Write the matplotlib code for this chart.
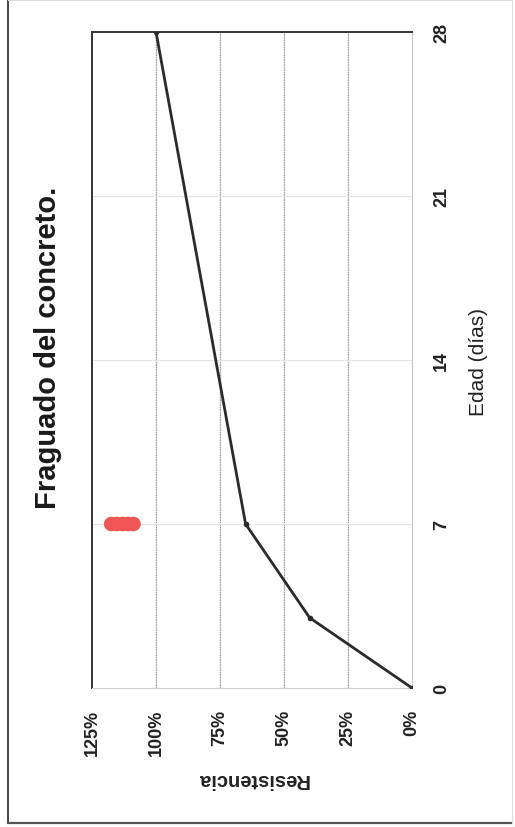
import matplotlib.pyplot as plt
from matplotlib.lines import Line2D

plt.rcParams["font.family"] = ["Liberation Sans", "DejaVu Sans"]

# Data (chart is drawn rotated 90 degrees, as in the scanned page)
edad_dias = [0, 3, 7, 28]
resistencia = [0, 40, 65, 100]
edad_ticks = [0, 7, 14, 21, 28]
resistencia_ticks = [0, 25, 50, 75, 100, 125]

# Red marks on the page (ink dots near day 7)
marca_edad = [7, 7, 7, 7, 7]
marca_resistencia = [117.5, 115.3, 113.1, 110.9, 108.8]

W, H = 515, 828
fig = plt.figure(figsize=(W / 100, H / 100), dpi=100)
fig.patch.set_facecolor("white")

ax = fig.add_axes([92 / W, 1 - 689 / H, (412 - 92) / W, (689 - 33) / H])

# Grid lines
for r in resistencia_ticks[1:-1]:
    ax.axvline(r, color="#a0a0a0", lw=0.9, ls=(0, (1.5, 0.5)), zorder=1)
for e in edad_ticks[1:-1]:
    ax.axhline(e, color="#e4e4e4", lw=0.8, zorder=1)

ax.plot(resistencia, edad_dias, color="#2b2b2b", lw=2.0, marker="o",
        ms=3, zorder=3)
ax.scatter(marca_resistencia, marca_edad, s=110, color="#f25555",
           edgecolors="none", zorder=4)

ax.set_xlim(125, 0)
ax.set_ylim(0, 28)
ax.set_xticks(resistencia_ticks)
ax.set_yticks(edad_ticks)
ax.tick_params(length=0, labelbottom=False, labelleft=False)

# Spines: left and top dark, right and bottom light
ax.spines["left"].set_color("#333333")
ax.spines["top"].set_color("#333333")
ax.spines["left"].set_linewidth(1.4)
ax.spines["top"].set_linewidth(1.4)
ax.spines["right"].set_color("#c8c8c8")
ax.spines["bottom"].set_color("#d0d0d0")
ax.spines["right"].set_linewidth(0.8)
ax.spines["bottom"].set_linewidth(0.8)

# Tick labels, rotated
for r in resistencia_ticks:
    ax.annotate(f"{r}%", xy=(r, 0), xycoords="data", xytext=(0, -21),
                textcoords="offset pixels", rotation=90, ha="center",
                va="top", fontsize=13, fontweight="bold", color="#222222")
for e in edad_ticks:
    ax.annotate(f"{e}", xy=(0, e), xycoords="data", xytext=(21, 0),
                textcoords="offset pixels", rotation=90, ha="left",
                va="center", fontsize=13, fontweight="bold", color="#222222")

fig.text(478 / W, 1 - 362 / H, "Edad (días)", rotation=90, ha="center",
         va="center", fontsize=15, color="#222222")
fig.text(253 / W, 1 - 780 / H, "Resistencia", rotation=180, ha="center",
         va="center", fontsize=14.5, fontweight="bold", color="#222222")
fig.text(48 / W, 1 - 348 / H, "Fraguado del concreto.", rotation=90,
         ha="center", va="center", fontsize=21, fontweight="bold",
         color="#1a1a1a")

# Outer frame of the scanned chart
fig.add_artist(Line2D([8 / W, 8 / W], [1 - 824 / H, 1], color="#444444", lw=1.4))
fig.add_artist(Line2D([8 / W, 512 / W], [1 - 824 / H, 1 - 824 / H],
                      color="#555555", lw=1.6))
fig.add_artist(Line2D([512 / W, 512 / W], [1 - 824 / H, 1], color="#dddddd", lw=0.8))
fig.add_artist(Line2D([8 / W, 512 / W], [1 - 1 / H, 1 - 1 / H], color="#dddddd", lw=0.8))

fig.savefig("out.png", dpi=100)
